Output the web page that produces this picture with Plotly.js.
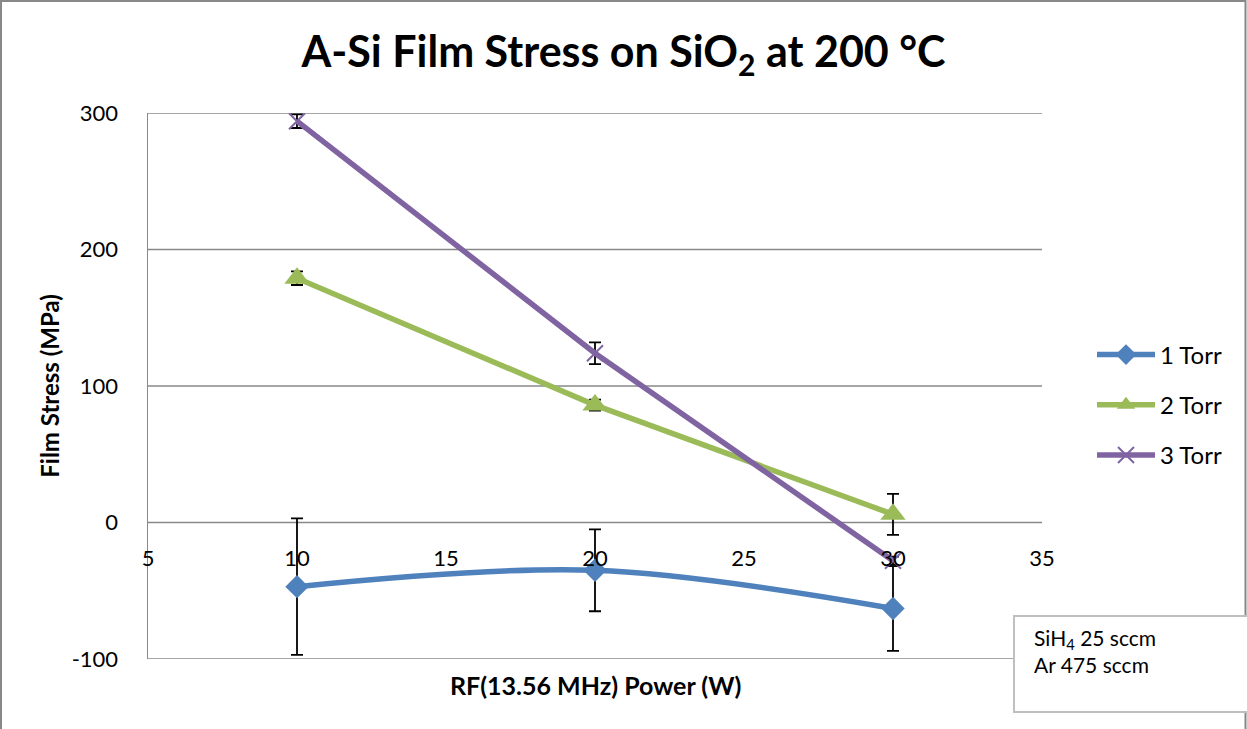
<!DOCTYPE html>
<html>
<head>
<meta charset="utf-8">
<script src="https://cdn.plot.ly/plotly-3.0.1.min.js"></script>
<style>
  html, body { margin: 0; padding: 0; background: #fff; }
  #chart { width: 1247px; height: 729px; }
</style>
</head>
<body>
<div id="chart"></div>
<script>
// ---- data ----
const power = [10, 20, 30];
const seriesNames = ["1 Torr", "2 Torr", "3 Torr"];
const torr1 = [-47, -35, -63];
const torr1Err = [50, 30, 31];
const torr2 = [179, 86, 6];
const torr2Err = [5, 4, 15];
const torr3 = [294, 124, -28];
const torr3Err = [5, 8, 3];
const xTicks = [5, 10, 15, 20, 25, 30, 35];
const yTicks = [-100, 0, 100, 200, 300];

const FONT = "Lato, 'Open Sans', sans-serif";
const GRID = '#888';
const errStyle = { type: 'data', visible: true, color: '#000', thickness: 1.8, width: 6 };

const traces = [
  {
    x: power, y: torr1, name: seriesNames[0], mode: 'lines+markers', legendgroup: 'a',
    line: { color: '#4F81BD', width: 5.5, shape: 'spline', smoothing: 1 },
    marker: { symbol: 'diamond', size: 18, color: '#4F81BD' },
    error_y: Object.assign({ array: torr1Err }, errStyle)
  },
  {
    x: power, y: torr2, name: seriesNames[1], mode: 'lines+markers', legendgroup: 'b',
    line: { color: '#9BBB59', width: 5.5 },
    marker: { symbol: 'triangle-up', size: 22, color: '#9BBB59' },
    error_y: Object.assign({ array: torr2Err }, errStyle)
  },
  {
    x: power, y: torr3, name: seriesNames[2], mode: 'lines+markers', legendgroup: 'c',
    line: { color: '#8064A2', width: 5.5 },
    marker: { symbol: 'x-thin', size: 16, color: '#8064A2', line: { color: '#8064A2', width: 2 } },
    error_y: Object.assign({ array: torr3Err }, errStyle)
  }
];

const L = 148, R = 1042, T = 113, B = 659;
const W = R - L, H = B - T;
const px2x = p => (p - L) / W;
const px2y = p => (B - p) / H;

// horizontal grid lines drawn as shapes at each y tick value (Plotly hides edge grid lines)
const gridShapes = yTicks.map(v => ({
  type: 'line', xref: 'paper', yref: 'y', x0: 0, x1: 1, y0: v, y1: v,
  line: { color: GRID, width: 1.5 }, layer: 'below'
}));

const layout = {
  width: 1247, height: 729,
  margin: { l: L, r: 1247 - R, t: T, b: 729 - B },
  paper_bgcolor: '#fff', plot_bgcolor: '#fff',
  font: { family: FONT, color: '#000', size: 21 },
  showlegend: true,
  title: {
    text: '<b>A-Si Film Stress on SiO<sub>2</sub> at 200 °C</b>',
    font: { family: FONT, size: 43, color: '#000' },
    x: 0.5, xref: 'container', xanchor: 'center',
    y: 1 - 52 / 729, yref: 'container', yanchor: 'middle'
  },
  xaxis: {
    range: [5, 35], tickvals: xTicks, ticktext: xTicks.map(String),
    anchor: 'free', position: 0.25,
    showline: false, showgrid: false, zeroline: false, ticks: '',
    ticklabelstandoff: 20,
    tickfont: { family: FONT, size: 22, color: '#000' }
  },
  yaxis: {
    range: [-100, 300], tickvals: yTicks, ticktext: yTicks.map(String),
    showline: true, linecolor: GRID, linewidth: 1.5,
    showgrid: false, zeroline: false,
    ticks: '', ticklabelstandoff: 24,
    tickfont: { family: FONT, size: 22, color: '#000' },
    title: { text: '<b>Film Stress (MPa)</b>', font: { family: FONT, size: 24, color: '#000' }, standoff: 5 }
  },
  legend: {
    x: px2x(1092), xanchor: 'left', y: px2y(405), yanchor: 'middle',
    font: { family: FONT, size: 24, color: '#000' },
    itemwidth: 58, tracegroupgap: 16, traceorder: 'grouped',
    bgcolor: 'rgba(0,0,0,0)'
  },
  shapes: gridShapes.concat([
    { type: 'rect', xref: 'paper', yref: 'paper', x0: px2x(1), x1: px2x(1245.5), y0: px2y(760), y1: px2y(1),
      line: { color: GRID, width: 2 }, fillcolor: 'rgba(0,0,0,0)', layer: 'below' },
    { type: 'rect', xref: 'paper', yref: 'paper', x0: px2x(1014), x1: px2x(1260), y0: px2y(712), y1: px2y(616),
      line: { color: '#BFBFBF', width: 2 }, fillcolor: '#fff', layer: 'above' }
  ]),
  annotations: [
    { text: '<b>RF(13.56 MHz) Power (W)</b>', xref: 'paper', yref: 'paper', x: 0.5, y: px2y(685),
      xanchor: 'center', yanchor: 'middle', showarrow: false, font: { family: FONT, size: 25, color: '#000' } },
    { text: 'SiH<sub>4</sub> 25 sccm<br>Ar 475 sccm', xref: 'paper', yref: 'paper', x: px2x(1032), y: px2y(623),
      xanchor: 'left', yanchor: 'top', align: 'left', showarrow: false, font: { family: FONT, size: 21, color: '#000' } }
  ]
};

Plotly.newPlot('chart', traces, layout, { displayModeBar: false, staticPlot: true });
</script>
</body>
</html>
